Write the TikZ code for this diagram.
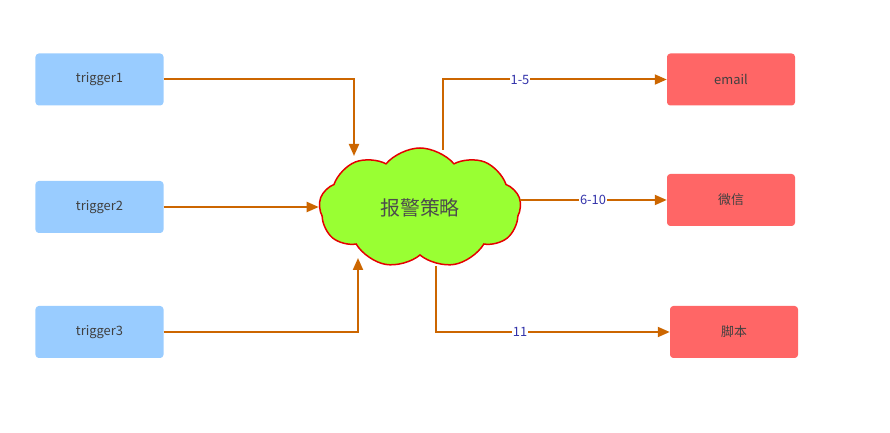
\documentclass[tikz,border=0pt]{standalone}
\usepackage{fontspec}
\setmainfont{Noto Sans CJK SC}
\usetikzlibrary{arrows.meta,shapes.symbols}
\definecolor{trigblue}{HTML}{99CCFF}
\definecolor{actred}{HTML}{FF6666}
\definecolor{cloudgreen}{HTML}{99FF33}
\definecolor{flowbrown}{HTML}{CC6600}
\definecolor{lblblue}{HTML}{3333AA}

\begin{document}
\begin{tikzpicture}[x=0.03cm,y=-0.03cm,
	trig/.style={fill=trigblue, rounded corners=1mm, minimum width=38.4mm, minimum height=15.6mm, font=\fontsize{11}{13}\selectfont, text=black!75},
	act/.style={fill=actred, rounded corners=1mm, minimum width=38.4mm, minimum height=15.6mm, font=\fontsize{11}{13}\selectfont, text=black!75},
	flow/.style={draw=flowbrown, line width=0.6mm, -{Triangle[length=3.6mm,width=3mm]}},
	lbl/.style={fill=white, inner sep=0.5pt, text=lblblue, font=\fontsize{11}{13}\selectfont}]
		%%%%% START %%%%%
		\useasboundingbox (0,0) rectangle (890,433);
		
		\node[trig] (t1) at (99.5, 79.5) {trigger1};
		\node[trig] (t2) at (99.5, 207) {trigger2};
		\node[trig] (t3) at (99.5, 332) {trigger3};
		
		\node[cloud, cloud puffs=9, cloud puff arc=100, aspect=1.7, draw=red!90!black, line width=0.45mm, fill=cloudgreen, inner sep=0pt, minimum width=60.5mm, minimum height=36mm, font=\fontsize{17}{20}\selectfont, text=black!70] (pol) at (420, 208) {报警策略};
		
		\node[act] (mail) at (731, 79.5) {email};
		\node[act] (wx) at (731, 200) {微信};
		\node[act] (jb) at (734, 332) {脚本};
		
		\coordinate (in1) at (354, 156);
		\coordinate (in3) at (358, 258);
		\coordinate (out1) at (443, 150);
		\coordinate (out2) at (520, 200);
		\coordinate (out3) at (436, 266);
		
		\draw[flow] (t1.east) -| (in1);
		\draw[flow] (t2.east) -- (t2.east -| pol.west);
		\draw[flow] (t3.east) -| (in3);
		
		\draw[flow] (out1) |- (mail.west);
		\draw[flow] (out2) -- (wx.west);
		\draw[flow] (out3) |- (jb.west);
		
		\node[lbl] at (520, 79.5) {1-5};
		\node[lbl] at (593, 200) {6-10};
		\node[lbl] at (520, 332) {11};
		%%%%% END %%%%%
	\end{tikzpicture}
\end{document}
